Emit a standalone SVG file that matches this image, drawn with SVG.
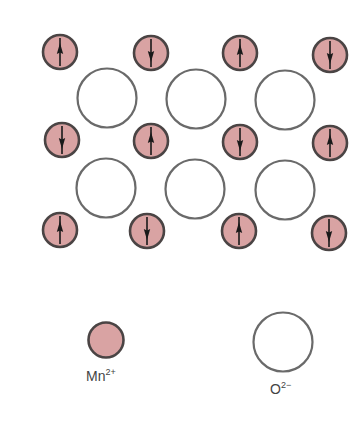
<svg xmlns="http://www.w3.org/2000/svg" xmlns:xlink="http://www.w3.org/1999/xlink" width="358" height="432" viewBox="0 0 358 432">
<style>
.mn{fill:#d9a3a3;stroke:#4a4444;stroke-width:2.6}
.o{fill:#ffffff;stroke:#6a6a6a;stroke-width:2.2}
.sp{stroke:#1a1a1a;stroke-width:1.6;fill:none}
.hd{fill:#1a1a1a}
.lbl{font-family:"Liberation Sans",Arial,sans-serif;font-size:14px;fill:#444}
.sup{font-size:9px}
</style>
<defs>
<g id="up"><line class="sp" x1="0" y1="-14" x2="0" y2="14"/><path class="hd" d="M0,-9 L3.2,2 L0,0.5 L-3.2,2 Z"/></g>
<g id="down"><use xlink:href="#up" transform="rotate(180)"/></g>
</defs>
<rect width="358" height="432" fill="#ffffff"/>
<g id="oxygen">
<circle class="o" cx="107" cy="98" r="29.5"/>
<circle class="o" cx="196" cy="99" r="29.5"/>
<circle class="o" cx="285" cy="100" r="29.5"/>
<circle class="o" cx="106" cy="188" r="29.5"/>
<circle class="o" cx="195" cy="189" r="29.5"/>
<circle class="o" cx="285" cy="190" r="29.5"/>
</g>
<g id="manganese">
<g id="mn-1-1" transform="translate(60,52)"><circle class="mn" r="17"/><use xlink:href="#up"/></g>
<g id="mn-1-2" transform="translate(151,53)"><circle class="mn" r="17"/><use xlink:href="#down"/></g>
<g id="mn-1-3" transform="translate(240,53)"><circle class="mn" r="17"/><use xlink:href="#up"/></g>
<g id="mn-1-4" transform="translate(330,55)"><circle class="mn" r="17"/><use xlink:href="#down"/></g>
<g id="mn-2-1" transform="translate(62,140)"><circle class="mn" r="17"/><use xlink:href="#down"/></g>
<g id="mn-2-2" transform="translate(151,141)"><circle class="mn" r="17"/><use xlink:href="#up"/></g>
<g id="mn-2-3" transform="translate(240,142)"><circle class="mn" r="17"/><use xlink:href="#down"/></g>
<g id="mn-2-4" transform="translate(330,143)"><circle class="mn" r="17"/><use xlink:href="#up"/></g>
<g id="mn-3-1" transform="translate(60,230)"><circle class="mn" r="17"/><use xlink:href="#up"/></g>
<g id="mn-3-2" transform="translate(147,231)"><circle class="mn" r="17"/><use xlink:href="#down"/></g>
<g id="mn-3-3" transform="translate(239,231)"><circle class="mn" r="17"/><use xlink:href="#up"/></g>
<g id="mn-3-4" transform="translate(329,233)"><circle class="mn" r="17"/><use xlink:href="#down"/></g>
</g>
<g id="legend-mn">
<circle class="mn" cx="106" cy="340" r="17.5"/>
<text class="lbl" x="86" y="381">Mn<tspan class="sup" dy="-6">2+</tspan></text>
</g>
<g id="legend-o">
<circle class="o" cx="283" cy="342" r="29.5"/>
<text class="lbl" x="270" y="394">O<tspan class="sup" dy="-6">2−</tspan></text>
</g>
</svg>
